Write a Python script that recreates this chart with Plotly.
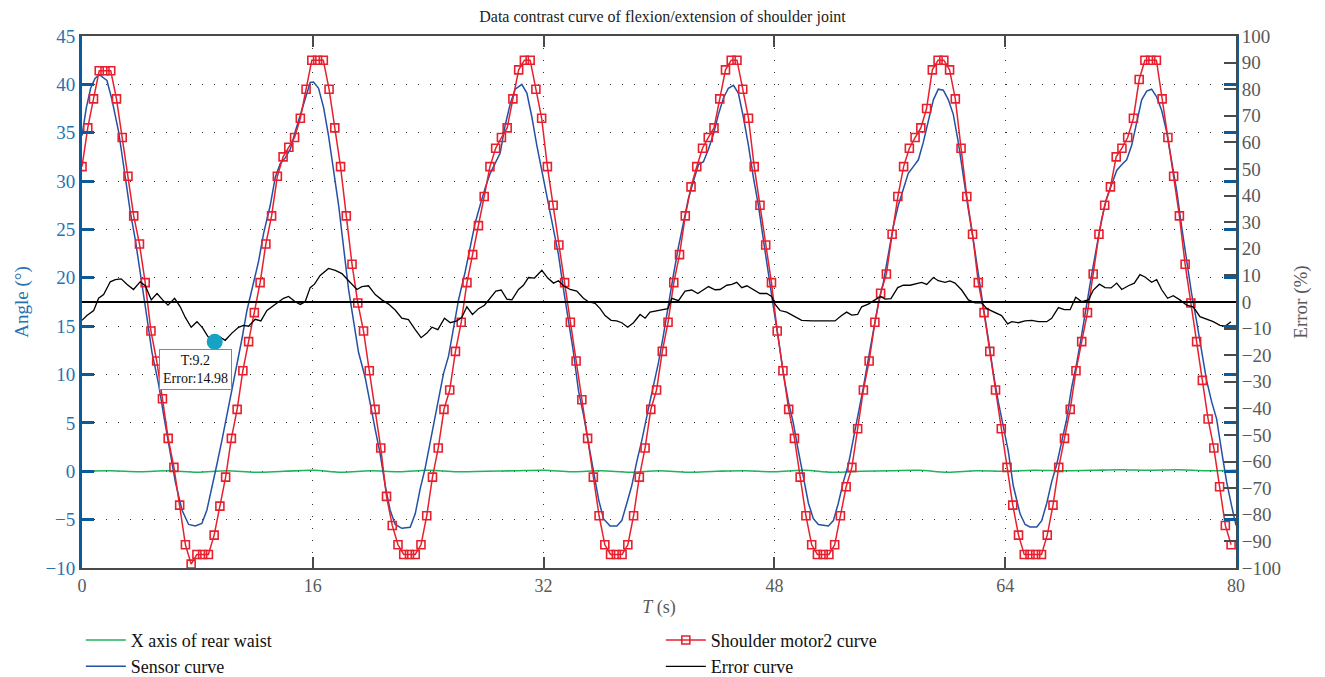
import plotly.graph_objects as go

# ---------------- data ----------------
# Shoulder motor2 curve: one sample every MOTOR_DT seconds starting at 0
MOTOR_DT = 0.3983
MOTOR_V = [
    31.5, 35.5, 38.5, 41.4, 41.4, 41.4, 38.5, 34.5, 30.5, 26.4,
    23.5, 19.5, 14.5, 11.4, 7.5, 3.4, 0.4, -3.5, -7.6, -9.6,
    -8.6, -8.6, -8.6, -6.6, -3.6, -0.6, 3.4, 6.4, 10.4, 13.4,
    16.4, 19.5, 23.5, 26.4, 30.5, 32.5, 33.5, 34.5, 36.5, 39.5,
    42.5, 42.5, 42.5, 39.5, 35.5, 31.5, 26.4, 21.4, 17.4, 14.5,
    10.4, 6.4, 2.4, -2.6, -5.6, -7.6, -8.6, -8.6, -8.6, -7.6,
    -4.6, -0.6, 2.4, 6.4, 8.4, 12.4, 15.4, 19.5, 22.4, 25.4,
    28.4, 31.5, 33.4, 34.5, 35.5, 38.5, 41.5, 42.5, 42.5, 39.5,
    36.5, 31.5, 27.5, 23.4, 19.5, 15.4, 11.4, 7.4, 3.4, -0.6,
    -4.6, -7.6, -8.6, -8.6, -8.6, -7.6, -4.6, -0.6, 2.4, 6.4,
    8.4, 12.4, 15.4, 19.5, 22.4, 26.4, 29.4, 31.5, 33.4, 34.5,
    35.5, 38.5, 41.5, 42.5, 42.5, 39.5, 36.5, 31.5, 27.5, 23.4,
    19.5, 14.5, 10.4, 6.4, 3.4, -0.6, -4.6, -7.6, -8.6, -8.6,
    -8.6, -7.6, -4.6, -1.6, 0.4, 4.4, 8.4, 11.4, 15.4, 18.4,
    20.4, 24.5, 28.4, 31.5, 33.4, 34.5, 35.5, 37.5, 41.5, 42.5,
    42.5, 41.5, 38.5, 33.4, 28.4, 24.5, 19.5, 16.4, 12.4, 8.4,
    4.4, 0.4, -3.5, -6.6, -8.6, -8.6, -8.6, -8.6, -6.6, -3.5,
    0.4, 3.4, 6.4, 10.4, 13.4, 16.4, 20.4, 24.5, 27.5, 29.4,
    32.5, 33.4, 34.5, 36.5, 40.5, 42.5, 42.5, 42.5, 38.5, 34.5,
    30.5, 26.4, 21.4, 17.4, 13.4, 9.4, 5.4, 2.4, -1.6, -5.6,
    -7.6,
]

SENSOR_T = [
    0.0, 0.3, 0.6, 0.9, 1.2, 1.73, 2.08, 2.54, 3.0, 3.35, 3.7, 4.16, 4.5, 4.85,
    5.31, 5.66, 6.12, 6.47, 6.93, 7.39, 7.85, 8.31, 8.66, 9.0, 9.35, 9.7, 10.05,
    10.39, 10.74, 11.09, 11.43, 11.78, 12.24, 12.59, 13.05, 13.4, 13.74, 14.09,
    14.44, 14.78, 15.13, 15.48, 15.82, 16.05, 16.4, 16.75, 17.09, 17.44, 17.79,
    18.13, 18.48, 18.83, 19.17, 19.63, 19.98, 20.33, 20.67, 21.02, 21.36, 21.71,
    22.17, 22.75, 23.1, 23.44, 23.79, 24.02, 24.36, 24.71, 25.06, 25.41, 25.76,
    26.1, 26.56, 26.91, 27.26, 27.6, 27.95, 28.3, 28.65, 28.99, 29.34, 29.69,
    30.03, 30.49, 30.84, 31.19, 31.53, 31.88, 32.23, 32.58, 33.03, 33.38, 33.73,
    34.07, 34.42, 34.77, 35.11, 35.46, 35.81, 36.15, 36.61, 37.08, 37.42, 37.77,
    38.11, 38.46, 38.81, 39.27, 39.61, 39.96, 40.31, 40.66, 41.0, 41.35, 41.69,
    42.04, 42.39, 42.74, 43.08, 43.43, 43.78, 44.12, 44.47, 44.81, 45.16, 45.5,
    45.85, 46.2, 46.54, 46.89, 47.24, 47.58, 47.93, 48.28, 48.62, 48.97, 49.31,
    49.66, 50.01, 50.36, 50.7, 51.05, 51.74, 52.09, 52.43, 52.78, 53.13, 53.47,
    53.82, 54.17, 54.51, 54.86, 55.21, 55.55, 55.9, 56.24, 56.59, 56.94, 57.28,
    57.63, 57.98, 58.32, 58.67, 59.02, 59.36, 59.71, 60.06, 60.4, 60.75, 61.1,
    61.44, 61.79, 62.13, 62.48, 62.83, 63.18, 63.52, 63.87, 64.21, 64.56, 65.03,
    65.38, 65.72, 66.19, 66.53, 66.88, 67.22, 67.57, 67.91, 68.26, 68.61, 68.96,
    69.3, 69.65, 69.99, 70.34, 70.69, 71.03, 71.38, 71.73, 72.07, 72.42, 72.77,
    73.11, 73.46, 73.81, 74.15, 74.5, 74.85, 75.19, 75.54, 75.89, 76.23, 76.58,
    76.92, 77.27, 77.62, 77.96, 78.31, 78.66, 79.0, 79.35, 79.7, 80.0,
]
SENSOR_V = [
    34.7, 37.6, 39.6, 40.6, 41.0, 40.4, 38.4, 35.1, 30.4, 26.8, 23.9, 19.5, 15.9, 12.3,
    9.0, 5.8, 2.1, -1.1, -4.0, -5.5, -5.65, -5.4, -4.0, -1.8, 0.7, 3.2, 5.8,
    8.3, 11.2, 13.7, 16.6, 18.8, 21.7, 24.6, 27.5, 30.4, 31.8, 32.4,
    33.3, 35.1, 36.9, 38.7, 40.2, 40.25, 39.6, 37.6, 34.7, 31.1, 27.5,
    23.2, 18.8, 15.5, 12.3, 9.7, 6.8, 4.3, 1.8, -1.5, -4.0, -5.5,
    -5.9, -5.8, -4.4, -1.85, 0.33, 2.1, 5.0, 7.6, 10.1, 11.9, 14.8,
    17.7, 20.6, 23.2, 25.7, 27.5, 29.3, 30.8, 31.8, 32.9, 35.8, 38.0,
    39.5, 40.0, 39.1, 36.6, 33.7, 31.1, 28.2, 25.7, 22.4, 18.8, 15.5,
    12.3, 8.3, 5.8, 2.9, 0.0, -2.9, -4.9, -5.65, -5.65, -5.1, -3.3,
    -1.5, 1.0, 3.2, 6.5, 8.7, 11.2, 14.1, 17.4, 20.3, 23.2, 25.7,
    28.2, 30.0, 31.7, 32.0, 33.3, 34.9, 36.9, 38.6, 39.6, 39.9, 39.1,
    36.6, 33.7, 30.4, 27.5, 23.9, 20.3, 17.0, 13.7, 10.1, 7.2, 5.0,
    2.1, -0.8, -3.3, -4.9, -5.5, -5.65, -5.1, -3.3, -1.1, 0.7, 3.2,
    6.1, 8.7, 11.6, 14.5, 17.4, 19.5, 22.4, 25.3, 27.5, 29.3, 30.8,
    31.5, 32.2, 34.0, 36.2, 38.4, 39.5, 39.4, 38.4, 36.9, 34.0, 30.4,
    27.1, 23.9, 20.3, 17.0, 13.7, 10.1, 7.2, 4.6, 2.1, -1.5, -4.4,
    -5.5, -5.75, -5.75, -5.1, -3.3, -1.1, 0.7, 2.9, 5.4, 8.7, 11.2,
    14.1, 17.4, 20.3, 23.2, 26.1, 28.2, 29.7, 31.1, 31.7, 32.2, 33.7,
    36.2, 38.4, 39.3, 39.5, 38.7, 37.3, 35.1, 32.2, 29.0, 25.3, 21.7,
    18.4, 15.5, 12.3, 9.4, 7.2, 5.4, 2.1, -1.1, -3.6, -5.6,
]

ERROR_T = [
    0.0, 0.34, 0.81, 1.15, 1.5, 1.96, 2.31, 2.72, 3.11, 3.57, 4.03, 4.39, 4.8, 5.2,
    5.59, 5.96, 6.42, 6.81, 7.16, 7.57, 7.97, 8.36, 8.73, 9.12, 9.51, 9.93, 10.39,
    10.85, 11.2, 11.55, 12.01, 12.4, 12.82, 13.16, 13.63, 13.97, 14.32, 14.78,
    15.13, 15.47, 15.82, 16.12, 16.51, 17.09, 17.56, 18.02, 18.48, 19.06, 19.4,
    19.86, 20.33, 20.79, 21.25, 21.71, 22.17, 22.63, 23.1, 23.51, 23.91, 24.26,
    24.67, 25.13, 25.53, 25.99, 26.33, 26.68, 27.07, 27.49, 27.9, 28.3, 28.69,
    29.06, 29.45, 29.8, 30.26, 30.6, 30.95, 31.37, 31.88, 32.29, 32.69, 33.03,
    33.38, 33.84, 34.3, 34.76, 35.11, 35.57, 35.92, 36.26, 36.68, 37.07, 37.42,
    37.83, 38.23, 38.69, 39.04, 39.38, 39.85, 40.2, 40.61, 40.89, 41.35, 41.81,
    42.27, 42.69, 43.08, 43.43, 43.89, 44.23, 44.7, 45.05, 45.39, 45.74, 46.09,
    46.55, 47.0, 47.47, 47.81, 48.04, 48.39, 48.85, 49.31, 49.89, 50.59, 51.51,
    52.2, 52.66, 53.01, 53.36, 53.77, 54.05, 54.51, 54.97, 55.37, 55.67, 56.08,
    56.55, 56.94, 57.4, 57.75, 58.21, 58.56, 59.02, 59.36, 59.83, 60.17, 60.52,
    60.98, 61.45, 61.91, 62.37, 62.72, 63.18, 63.75, 64.17, 64.45, 64.91, 65.37,
    65.84, 66.3, 66.88, 67.22, 67.69, 68.1, 68.5, 68.89, 69.31, 69.77, 70.11,
    70.53, 70.92, 71.34, 71.73, 72.08, 72.54, 72.95, 73.34, 73.69, 74.15, 74.5,
    74.84, 75.26, 75.65, 76.11, 76.58, 77.04, 77.5, 77.96, 78.42, 78.89, 79.24,
    79.65,
]
ERROR_V = [
    -6.9, -5.1, -3.2, 1.4, 2.8, 7.6, 8.4, 8.7, 6.7, 4.7, 7.6, 6.1, 0.8, 3.2,
    0.8, -1.2, 1.4, -1.8, -5.8, -9.5, -7.4, -9.7, -13.0, -14.9, -13.0, -14.4, -11.7,
    -9.5, -8.8, -9.1, -6.5, -7.1, -3.2, -1.8, 0.1, 1.4, 2.1, 0.1,
    -0.9, 0.1, 5.4, 6.7, 10.0, 12.6, 11.9, 10.7, 8.0, 4.7, 5.8,
    6.1, 2.8, 0.8, -0.8, -3.0, -6.1, -6.6, -10.4, -13.4, -11.7, -9.5,
    -10.4, -6.1, -7.8, -7.1, -5.8, -1.8, -4.7, -2.5, -1.2, 1.4, 4.1,
    4.5, 1.1, 0.8, 4.7, 6.3, 9.2, 9.0, 11.9, 9.0, 7.1, 8.0,
    6.1, 4.7, 4.1, 1.4, 0.1, -0.5, -2.5, -5.1, -6.9, -7.1, -7.8,
    -9.5, -7.8, -4.7, -6.1, -3.8, -3.2, -2.8, -2.5, 1.4, 0.5, 4.1,
    4.5, 3.2, 4.7, 5.8, 4.6, 4.7, 6.3, 6.6, 7.4, 5.4, 6.1,
    4.5, 3.2, 3.2, 2.1, -0.8, -3.2, -3.8, -5.1, -6.9, -7.1, -7.1,
    -7.1, -5.1, -3.8, -4.9, -4.7, -1.8, -0.8, 0.8, 2.1, 1.1, 1.3,
    5.4, 6.3, 6.3, 6.7, 7.4, 6.6, 9.2, 8.0, 7.4, 7.9, 7.1,
    4.5, 0.8, -0.3, -0.3, -2.5, -3.8, -5.1, -8.2, -7.4, -7.8, -7.1,
    -6.9, -7.4, -7.4, -6.1, -2.1, -2.9, -2.9, 1.8, 0.1, 0.8, 4.5,
    6.7, 5.4, 5.3, 7.1, 4.7, 6.1, 7.1, 10.3, 9.4, 7.4, 8.4,
    4.7, 1.4, 2.4, 0.8, -1.2, -1.8, -5.5, -6.5, -7.4, -8.8, -9.1,
    -7.4,
]

WAIST_T = [0, 2, 4, 6, 8, 10, 12, 14, 16, 18, 20, 22, 24, 26, 28, 30, 32, 34, 36, 38, 40,
           42, 44, 46, 48, 50, 52, 54, 56, 58, 60, 62, 64, 66, 68, 70, 72, 74, 76, 78, 80]
WAIST_V = [0.0, 0.05, -0.05, 0.05, -0.1, 0.05, -0.1, 0.0, 0.1, -0.1, 0.05, -0.05, 0.1, -0.05,
           0.0, 0.05, 0.1, -0.05, 0.05, -0.1, 0.05, -0.1, 0.0, 0.05, -0.05, 0.1, -0.1, 0.0,
           0.05, 0.1, -0.1, 0.05, 0.0, 0.1, 0.05, 0.1, 0.15, 0.1, 0.15, 0.05, 0.1]

MARK_T, MARK_ERR = 9.2, -14.98
MARK_LABEL = "T:9.2<br>Error:14.98"

X_TICKS = [0, 16, 32, 48, 64, 80]

TITLE = "Data contrast curve of flexion/extension of shoulder joint"

# ---------------- styles ----------------
FONT = "Liberation Serif"
BLUE_AX = "#0b5a9a"
BLUE_TXT = "#2a72ae"
GRAY = "#4a4a4a"
GRAY_TXT = "#595959"
GRID_DASH = "1px,11px"

motor_t = [i * MOTOR_DT for i in range(len(MOTOR_V))]

fig = go.Figure()
fig.add_trace(go.Scatter(x=WAIST_T, y=WAIST_V, mode="lines", name="X axis of rear waist",
                         line=dict(color="#1fb35c", width=1.6, shape="spline"), legendrank=1))
fig.add_trace(go.Scatter(x=SENSOR_T, y=SENSOR_V, mode="lines", name="Sensor curve",
                         line=dict(color="#2451a4", width=1.5), legendrank=3))
fig.add_trace(go.Scatter(x=motor_t, y=MOTOR_V, mode="lines+markers", name="Shoulder motor2 curve",
                         line=dict(color="#e8202e", width=1.5),
                         marker=dict(symbol="square-open", size=8, color="#e8202e",
                                     line=dict(width=1.6, color="#e8202e")),
                         legendrank=2))
fig.add_trace(go.Scatter(x=ERROR_T, y=ERROR_V, mode="lines", name="Error curve", yaxis="y2",
                         line=dict(color="#000000", width=1.3), legendrank=4))
fig.add_trace(go.Scatter(x=[MARK_T], y=[MARK_ERR], mode="markers", yaxis="y2", showlegend=False,
                         marker=dict(size=16, color="#16a2c2"), hoverinfo="skip"))

fig.add_shape(type="line", xref="x", yref="y2", x0=0, x1=80, y0=0, y1=0,
              line=dict(color="#000000", width=2))

fig.add_annotation(xref="x", yref="y2", x=7.85, y=-25.5, text=MARK_LABEL, showarrow=False,
                   font=dict(family=FONT, size=14, color="#111"), align="center",
                   bordercolor="#1fb0c8", borderwidth=1, borderpad=3, bgcolor="white")

fig.update_layout(
    width=1325, height=677,
    margin=dict(l=82, r=89, t=36, b=109, autoexpand=False),
    paper_bgcolor="white", plot_bgcolor="white",
    font=dict(family=FONT, color="#222"),
    title=dict(text=TITLE, x=0.5, xanchor="center", y=1 - 16 / 677, yanchor="middle",
               font=dict(family=FONT, size=16, color="#222")),
    xaxis=dict(range=[0, 80], tickvals=X_TICKS, ticks="inside", ticklen=11, tickwidth=2,
               tickcolor=GRAY, showline=True, linecolor=GRAY, linewidth=2, mirror="ticks",
               showgrid=True, gridcolor="#333", gridwidth=1, griddash=GRID_DASH, zeroline=False,
               tickfont=dict(family=FONT, size=18, color=GRAY_TXT),
               title=dict(text="<i>T</i> (s)", font=dict(family=FONT, size=18, color=GRAY_TXT),
                          standoff=6)),
    yaxis=dict(range=[-10, 45], tick0=-10, dtick=5, ticks="inside", ticklen=12, tickwidth=2.5,
               tickcolor=BLUE_AX, showline=True, linecolor=BLUE_AX, linewidth=3, mirror="ticks",
               showgrid=True, gridcolor="#333", gridwidth=1, griddash=GRID_DASH, zeroline=False,
               tickfont=dict(family=FONT, size=19, color=BLUE_TXT),
               title=dict(text="Angle (°)", font=dict(family=FONT, size=19, color=BLUE_TXT),
                          standoff=12)),
    yaxis2=dict(range=[-100, 100], tick0=-100, dtick=10, overlaying="y", side="right",
                ticks="inside", ticklen=12, tickwidth=2, tickcolor=GRAY, showline=True,
                linecolor=GRAY, linewidth=2, showgrid=False, zeroline=False,
                tickfont=dict(family=FONT, size=19, color=GRAY_TXT),
                title=dict(text="Error (%)", font=dict(family=FONT, size=19, color=GRAY_TXT),
                           standoff=14)),
    legend=dict(orientation="h", x=-0.001, xanchor="left", y=-0.101, yanchor="top",
                entrywidth=525, entrywidthmode="pixels", itemwidth=40,
                font=dict(family=FONT, size=18, color="#111"),
                bgcolor="rgba(0,0,0,0)", tracegroupgap=0),
    showlegend=True,
)

fig.write_html("out.html")
